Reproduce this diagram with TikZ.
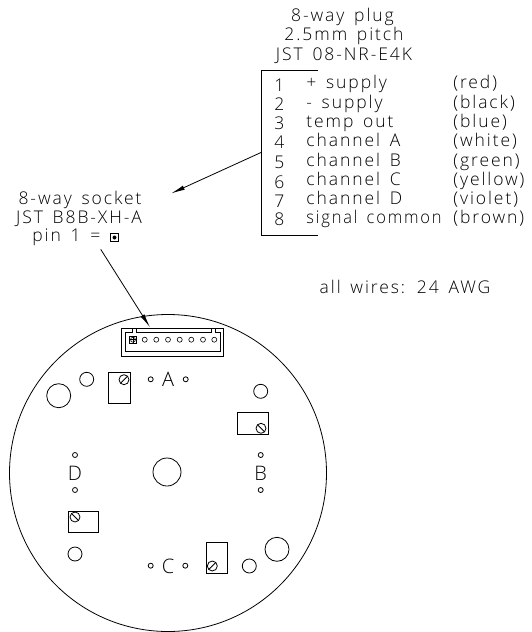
\documentclass[tikz,border=0pt]{standalone}
\usepackage{fontspec}
\setmainfont[UprightFont={* Light},LetterSpace=11,WordSpace=1.5]{Open Sans}
\usetikzlibrary{arrows.meta}
\tikzset{
    cadtext/.style={inner sep=0pt,anchor=base west,font=\fontsize{17.5}{19}\selectfont},
    headtext/.style={inner sep=0pt,anchor=base,font=\fontsize{17.5}{19}\selectfont},
    marktext/.style={inner sep=0pt,anchor=base,font=\fontsize{20}{22}\selectfont},
    pointer/.style={-{Latex[length=14pt,width=4.5pt]},line width=0.8pt},
    pin/.style={line width=0.6pt}
}
\begin{document}
\begin{tikzpicture}[x=1pt,y=-1pt,line width=0.8pt]
    \useasboundingbox (0,0) rectangle (531,632);
    % plug heading
    \node[headtext] (plugA) at (342.5,21) {8-way plug};
    \node[headtext] (plugB) at (344,40) {2.5mm pitch};
    \node[headtext] (plugC) at (344,60) {JST 08-NR-E4K};
    % bracket
    \draw (318,70.7)--(261,70.7)--(261,235)--(318,235);
    \coordinate (plugedge) at (261,152.5);
    % wire table
    \node[cadtext] (num1) at (274,91) {1};
    \node[cadtext] (num2) at (274,110) {2};
    \node[cadtext] (num3) at (274,129) {3};
    \node[cadtext] (num4) at (274,148) {4};
    \node[cadtext] (num5) at (274,168) {5};
    \node[cadtext] (num6) at (274,188) {6};
    \node[cadtext] (num7) at (274,207) {7};
    \node[cadtext] (num8) at (274,225) {8};
    \node[cadtext] (sig1) at (306,88.5) {+ supply};
    \node[cadtext] (sig2) at (306,108) {- supply};
    \node[cadtext] (sig3) at (306,127) {temp out};
    \node[cadtext] (sig4) at (306,146) {channel A};
    \node[cadtext] (sig5) at (306,166) {channel B};
    \node[cadtext] (sig6) at (306,185) {channel C};
    \node[cadtext] (sig7) at (306,204) {channel D};
    \node[cadtext] (sig8) at (306,223.5) {\scalebox{0.94}[1]{signal common}};
    \node[cadtext] (col1) at (453,88.5) {(red)};
    \node[cadtext] (col2) at (453,108) {(black)};
    \node[cadtext] (col3) at (453,127) {(blue)};
    \node[cadtext] (col4) at (453,146) {(white)};
    \node[cadtext] (col5) at (453,166) {(green)};
    \node[cadtext] (col6) at (453,185) {(yellow)};
    \node[cadtext] (col7) at (453,204) {(violet)};
    \node[cadtext] (col8) at (453,223.5) {(brown)};
    \node[headtext] (gauge) at (405,293) {all wires: 24 AWG};
    % socket label
    \node[headtext] (sockA) at (80,204) {8-way socket};
    \node[headtext] (sockB) at (79,223) {JST B8B-XH-A};
    \node[cadtext] (sockC) at (32,241.7) {pin 1 =};
    \draw[pin] (110.5,233.5) rectangle (118.5,241.5);
    \fill (114.5,237.5) circle (2);
    % pointers
    \coordinate (plugtip) at (171,193.5);
    \coordinate (socktail) at (100.7,249.3);
    \coordinate (socktip) at (150,327.3);
    \draw[pointer] (plugedge)--(plugtip);
    \draw[pointer] (socktail)--(socktip);
    % board
    \draw (168,473) circle (158.5);
    \draw (167,472) circle (14);
    \draw (58.7,395.7) circle (12);
    \draw (277,549.3) circle (12);
    \draw (86.7,379.3) circle (7);
    \draw (260.7,391.3) circle (7);
    \draw (75,554) circle (7);
    \draw (249.3,566) circle (7);
    % trimmers
    \draw (108.7,372.3) rectangle (130,403);
    \draw (124,379.7) circle (5);
    \draw (120.5,383.2)--(127.5,376.2);
    \draw (237.3,412.7) rectangle (268.3,434.3);
    \draw (261,428.3) circle (5);
    \draw (257.5,424.8)--(264.5,431.8);
    \draw (68,511) rectangle (98.7,532.3);
    \draw (75,517) circle (5);
    \draw (71.5,513.5)--(78.5,520.5);
    \draw (206.3,542.3) rectangle (227.3,573);
    \draw (212.3,566) circle (5);
    \draw (208.8,569.5)--(215.8,562.5);
    % channel marks
    \node[marktext] (chA) at (168,386.5) {A};
    \draw (150.7,379.3) circle (2.5);
    \draw (185.7,379.3) circle (2.5);
    \node[marktext] (chB) at (260.7,480) {B};
    \draw (260.7,455) circle (2.5);
    \draw (260.7,490) circle (2.5);
    \node[marktext] (chC) at (168,573) {C};
    \draw (150.7,565.7) circle (2.5);
    \draw (185.3,565.7) circle (2.5);
    \node[marktext] (chD) at (75,480) {D};
    \draw (75,455) circle (2.5);
    \draw (75,490) circle (2.5);
    % header
    \draw (121.7,328.3) rectangle (223.7,356);
    \draw (132.3,328.3)--(132.3,332.7)--(125,332.7)--(125,351.7)--(220.3,351.7)--(220.3,332.7)--(215,332.7)--(215,328.3);
    \draw (136.3,328.3)--(136.3,332.7)--(211.7,332.7)--(211.7,328.3);
    \draw[pin] (129.5,336.2) rectangle (136.5,343.2);
    \draw[pin] (133,339.7) circle (2.5);
    \draw[pin] (133,336.2)--(133,343.2);
    \draw[pin] (129.5,339.7)--(136.5,339.7);
    \draw[pin] (144.7,339.7) circle (2.5);
    \draw[pin] (156.3,339.7) circle (2.5);
    \draw[pin] (168,339.7) circle (2.5);
    \draw[pin] (179.7,339.7) circle (2.5);
    \draw[pin] (191.3,339.7) circle (2.5);
    \draw[pin] (203,339.7) circle (2.5);
    \draw[pin] (214.3,339.7) circle (2.5);
\end{tikzpicture}
\end{document}
